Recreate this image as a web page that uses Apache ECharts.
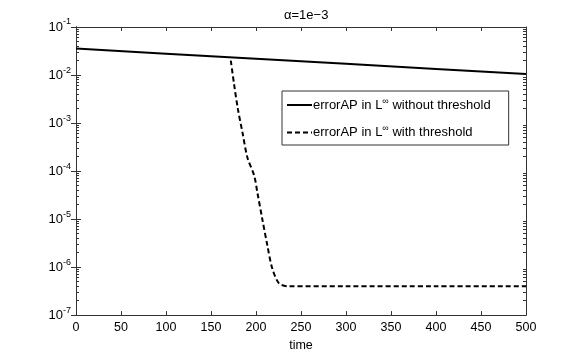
<!DOCTYPE html>
<html>
<head>
<meta charset="utf-8">
<script src="https://cdn.jsdelivr.net/npm/echarts@6/dist/echarts.min.js"></script>
<style>
  html, body { margin: 0; padding: 0; background: #fff; }
  #chart { width: 581px; height: 357px; }
</style>
</head>
<body>
<div id="chart"></div>
<script>
// data
var timeSolid = [0, 100, 200, 300, 400, 500];
var errSolid = [0.0355, 0.0278, 0.0218, 0.0171, 0.0134, 0.0105];

var timeDash = [172, 175.5, 180, 185, 190.5, 198, 201.5, 207, 212.5, 218, 225.5, 235, 300, 400, 500];
var errDash = [2.0e-2, 6.7e-3, 1.9e-3, 6.3e-4, 1.9e-4, 8e-5, 3.6e-5, 1e-5, 2.9e-6, 9.5e-7, 4.6e-7, 4e-7, 4e-7, 4e-7, 4e-7];

var xTicks = [0, 50, 100, 150, 200, 250, 300, 350, 400, 450, 500];
var yDecades = [1e-7, 1e-6, 1e-5, 1e-4, 1e-3, 1e-2, 1e-1];

var seriesNames = ['errorAP in L\u221e without threshold', 'errorAP in L\u221e with threshold'];

// minor ticks 2..9 per decade
var yMinor = [];
for (var d = 0; d < yDecades.length - 1; d++) {
  for (var m = 2; m <= 9; m++) yMinor.push(yDecades[d] * m);
}

function pairs(xs, ys) {
  return xs.map(function (x, i) { return [x, ys[i]]; });
}

var font = 'Liberation Sans, Arial, sans-serif';
var axisColor = '#333';

function yAxisBase(pos, labels, ticks, len) {
  return {
    type: 'log',
    logBase: 10,
    position: pos,
    min: 1e-7,
    max: 1e-1,
    axisLine: { show: true, lineStyle: { color: axisColor, width: 1 } },
    axisTick: { show: true, inside: true, length: len, customValues: ticks, lineStyle: { color: axisColor } },
    axisLabel: labels,
    splitLine: { show: false }
  };
}

var chart = echarts.init(document.getElementById('chart'));
chart.setOption({
  backgroundColor: '#fff',
  animation: false,
  title: {
    text: '\u03b1=1e\u22123',
    left: 279,
    top: 4,
    textStyle: { fontFamily: font, fontSize: 13, fontWeight: 'normal', color: '#000' }
  },
  grid: { left: 76, right: 55, top: 27, bottom: 40 },
  legend: {
    orient: 'vertical',
    left: 282,
    top: 91,
    width: 226,
    padding: [6, 18, 6, 4],
    itemGap: 13,
    itemWidth: 25,
    itemHeight: 10,
    borderColor: '#333',
    borderWidth: 1,
    backgroundColor: '#fff',
    itemStyle: { opacity: 0 },
    data: seriesNames,
    formatter: function (name) { return name.replace('L\u221e', 'L{s|\u221e}'); },
    textStyle: {
      fontFamily: font, fontSize: 13, color: '#000', padding: [0, 0, 0, -4],
      rich: { s: { fontFamily: font, fontSize: 9, color: '#000', padding: [0, 0, 7, 0] } }
    }
  },
  xAxis: [{
    type: 'value',
    min: 0, max: 500, interval: 50,
    name: 'time',
    nameLocation: 'middle',
    nameGap: 23,
    nameTextStyle: { fontFamily: font, fontSize: 12.5, color: '#000' },
    axisLine: { lineStyle: { color: axisColor } },
    axisTick: { inside: true, length: 4, customValues: xTicks, lineStyle: { color: axisColor } },
    axisLabel: { customValues: xTicks, fontFamily: font, fontSize: 12.5, color: '#000', margin: 6 },
    splitLine: { show: false }
  }, {
    type: 'value',
    position: 'top',
    min: 0, max: 500, interval: 50,
    axisLine: { lineStyle: { color: axisColor } },
    axisTick: { inside: true, length: 4, lineStyle: { color: axisColor } },
    axisLabel: { show: false },
    splitLine: { show: false }
  }],
  yAxis: [
    yAxisBase('left', {
      customValues: yDecades,
      fontFamily: font, fontSize: 13, color: '#000', margin: 5,
      formatter: function (v) {
        var e = Math.round(Math.log10(v));
        return '10{s|' + e + '}';
      },
      rich: { s: { fontFamily: font, fontSize: 9, color: '#000', padding: [0, 0, 10, 0] } }
    }, yDecades, 5),
    yAxisBase('right', { show: false }, yDecades, 5),
    yAxisBase('left', { show: false }, yMinor, 3),
    yAxisBase('right', { show: false }, yMinor, 3)
  ],
  series: [{
    name: seriesNames[0],
    type: 'line',
    data: pairs(timeSolid, errSolid),
    symbol: 'none',
    lineStyle: { color: '#000', width: 2 },
    itemStyle: { color: '#000' }
  }, {
    name: seriesNames[1],
    type: 'line',
    data: pairs(timeDash, errDash),
    symbol: 'none',
    smooth: 0.3,
    lineStyle: { color: '#000', width: 2, type: [5, 3] },
    itemStyle: { color: '#000' }
  }]
});
</script>
</body>
</html>
